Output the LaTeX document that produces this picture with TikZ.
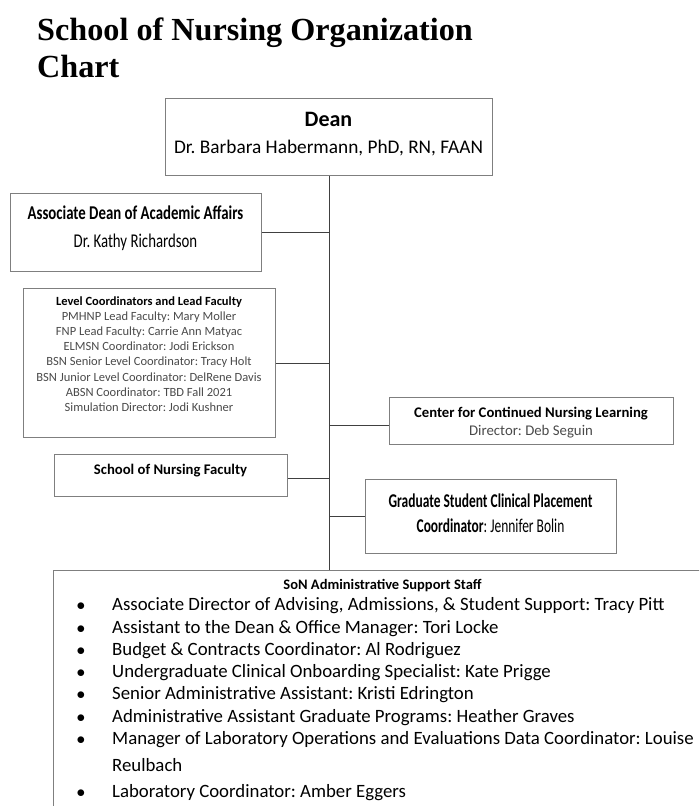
\documentclass[tikz,border=0pt]{standalone}
\usepackage{fontspec}
\setmainfont{Carlito}
\newfontfamily\serifhead{Liberation Serif}
\newfontfamily\narrow[FakeStretch=0.76]{Carlito}
\newfontfamily\gradnarrow[FakeStretch=0.69]{Carlito}
\usetikzlibrary{positioning}
\definecolor{framegray}{HTML}{7F7F7F}
\definecolor{wiregray}{HTML}{404040}
\definecolor{softtext}{HTML}{4A4A4A}
\frenchspacing

\begin{document}
\begin{tikzpicture}[x=1pt, y=-1pt, inner sep=0pt]
\tikzstyle{box}=[draw=framegray, line width=1.2pt, anchor=north west, inner sep=0pt]
\tikzstyle{wire}=[draw=wiregray, line width=1pt]
\tikzstyle{txt}=[anchor=base, inner sep=0pt]
\clip (0,0) rectangle (699,806);

% heading
\node[txt, anchor=base west, font=\serifhead\bfseries\fontsize{32.2}{37}\selectfont] (head1) at (37,40) {School of Nursing Organization};
\node[txt, anchor=base west, font=\serifhead\bfseries\fontsize{32.2}{37}\selectfont] (head2) at (37,77) {Chart};

% boxes
\node[box, minimum width=327pt, minimum height=77pt] (dean) at (165,98) {};
\node[txt, font=\bfseries\fontsize{22}{26}\selectfont] (deanrole) at (328.5,126.5) {Dean};
\node[txt, font=\fontsize{19.3}{23}\selectfont] (deanname) at (328.5,153) {Dr. Barbara Habermann, PhD, RN, FAAN};

\node[box, minimum width=251pt, minimum height=78pt] (assoc) at (10,193) {};
\node[txt, font=\narrow\bfseries\fontsize{19.5}{23}\selectfont] (assocrole) at (135.5,219) {Associate Dean of Academic Affairs};
\node[txt, font=\narrow\fontsize{19.5}{23}\selectfont] (assocname) at (135.5,247) {Dr. Kathy Richardson};

\node[box, minimum width=252pt, minimum height=149pt] (level) at (23,288) {};
\node[txt, font=\bfseries\fontsize{12.5}{15}\selectfont] (levelhead) at (149,305) {Level Coordinators and Lead Faculty};
\foreach \who [count=\i] in {PMHNP Lead Faculty: Mary Moller, FNP Lead Faculty: Carrie Ann Matyac, ELMSN Coordinator: Jodi Erickson, BSN Senior Level Coordinator: Tracy Holt, BSN Junior Level Coordinator: DelRene Davis, ABSN Coordinator: TBD Fall 2021, Simulation Director: Jodi Kushner}
  \node[txt, text=softtext, font=\fontsize{12.5}{15}\selectfont] (level\i) at (149,305+15.2*\i) {\who};

\node[box, minimum width=284pt, minimum height=47pt] (cnl) at (389,397) {};
\node[txt, font=\bfseries\fontsize{14.7}{18}\selectfont] (cnlrole) at (531,417) {Center for Continued Nursing Learning};
\node[txt, text=softtext, font=\fontsize{14.8}{18}\selectfont] (cnlname) at (531,435) {Director: Deb Seguin};

\node[box, minimum width=233pt, minimum height=42pt] (faculty) at (54,454) {};
\node[txt, font=\bfseries\fontsize{14.7}{18}\selectfont] (facultyrole) at (170.5,474) {School of Nursing Faculty};

\node[box, minimum width=251pt, minimum height=74pt] (grad) at (365,479) {};
\node[txt, font=\gradnarrow\bfseries\fontsize{19.5}{23}\selectfont] (gradrole) at (490.5,507) {Graduate Student Clinical Placement};
\node[txt, font=\gradnarrow\fontsize{19.5}{23}\selectfont] (gradname) at (490.5,532) {\textbf{Coordinator}: Jennifer Bolin};

\node[box, minimum width=700pt, minimum height=300pt] (staff) at (53,570) {};
\node[txt, font=\bfseries\fontsize{14.5}{17}\selectfont] (staffhead) at (382.5,589) {SoN Administrative Support Staff};
\foreach \yy/\who [count=\i] in {610/{Associate Director of Advising, Admissions, \& Student Support: Tracy Pitt},
    633/{Assistant to the Dean \& Office Manager: Tori Locke},
    655/{Budget \& Contracts Coordinator: Al Rodriguez},
    677/{Undergraduate Clinical Onboarding Specialist: Kate Prigge},
    699/{Senior Administrative Assistant: Kristi Edrington},
    722/{Administrative Assistant Graduate Programs: Heather Graves},
    744/{Manager of Laboratory Operations and Evaluations Data Coordinator: Louise},
    797/{Laboratory Coordinator: Amber Eggers}}
{
  \node[txt, font=\fontsize{18.8}{22}\selectfont] (dot\i) at (81,\yy) {$\bullet$};
  \node[txt, anchor=base west, font=\fontsize{18.8}{22}\selectfont] (staff\i) at (112,\yy) {\who};
}
\node[txt, anchor=base west, font=\fontsize{18.8}{22}\selectfont] (staff7b) at (112,771) {Reulbach};

% connectors
\draw[wire] (dean.south) -- (dean.south |- staff.north);
\draw[wire] (assoc.east) -- (assoc.east -| dean.south);
\draw[wire] (level.east) -- (level.east -| dean.south);
\draw[wire] ([yshift=-4pt]cnl.west) -- ([yshift=-4pt]cnl.west -| dean.south);
\draw[wire] ([yshift=-3pt]faculty.east) -- ([yshift=-3pt]faculty.east -| dean.south);
\draw[wire] (grad.west) -- (grad.west -| dean.south);
\end{tikzpicture}
\end{document}
